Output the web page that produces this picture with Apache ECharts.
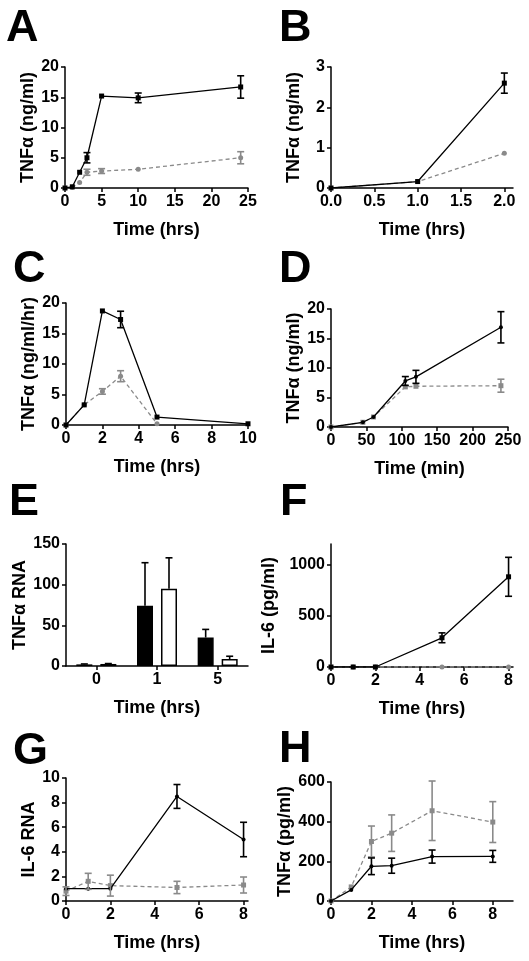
<!DOCTYPE html>
<html><head><meta charset="utf-8">
<script src="https://cdn.jsdelivr.net/npm/echarts@6/dist/echarts.min.js"></script>
<style>html,body{margin:0;padding:0;background:#fff}#c{width:529px;height:961px}</style>
</head><body><div id="c"></div>
<script>
// ---------- DATA ----------
// A
const A_x = [0, 1, 2, 3, 5, 10, 24];
const A_black = [0, 0.2, 2.6, 5.0, 15.2, 14.9, 16.7];
const A_blackErr = [0, 0, 0, 0.85, 0, 0.8, 1.85];
const A_gray = [0, 0.1, 0.9, 2.6, 2.8, 3.1, 5.0];
const A_grayErr = [0, 0, 0, 0.5, 0.4, 0, 1.0];
// B
const B_x = [0, 1, 2];
const B_black = [0, 0.16, 2.6];
const B_blackErr = [0, 0, 0.25];
const B_gray = [0, 0.16, 0.86];
const B_grayErr = [0, 0, 0];
// C
const C_x = [0, 1, 2, 3, 5, 10];
const C_black = [0, 3.3, 18.7, 17.3, 1.3, 0.2];
const C_blackErr = [0, 0, 0, 1.35, 0, 0];
const C_gx = [0, 1, 2, 3, 5];
const C_gray = [0, 3.3, 5.5, 8.0, 0.2];
const C_grayErr = [0, 0, 0.45, 0.9, 0];
// D
const D_x = [0, 45, 60, 105, 120, 240];
const D_black = [0, 0.8, 1.7, 7.8, 8.5, 16.9];
const D_blackErr = [0, 0, 0, 0.75, 1.1, 2.65];
const D_gray = [0, 0.8, 1.7, 6.8, 6.9, 7.0];
const D_grayErr = [0, 0, 0, 0, 0, 1.1];
// E
const E_cats = ['0', '1', '5'];
const E_black = [2, 74, 35];
const E_blackErr = [0.5, 53, 10];
const E_white = [2.5, 95, 8.6];
const E_whiteErr = [0.5, 38, 3.4];
// F
const F_x = [0, 1, 2, 5, 8];
const F_black = [0, 0, 0, 285, 880];
const F_blackErr = [0, 0, 0, 48, 190];
const F_gray = [0, 0, 0, 0, 0];
// G
const G_x = [0, 1, 2, 5, 8];
const G_black = [1.0, 1.0, 1.0, 8.5, 5.0];
const G_blackErr = [0, 0, 0, 0.97, 1.4];
const G_gray = [0.8, 1.6, 1.25, 1.1, 1.3];
const G_grayErr = [0.35, 0.65, 0.85, 0.5, 0.65];
// H
const H_x = [0, 1, 2, 3, 5, 8];
const H_black = [0, 56, 175, 178, 224, 225];
const H_blackErr = [0, 0, 42, 38, 33, 30];
const H_gray = [0, 71, 300, 342, 455, 398];
const H_grayErr = [0, 0, 78, 92, 150, 103];

// ---------- LAYOUT ----------
const FONT = '"Liberation Sans", Arial, sans-serif';
const BLACK = '#000';
const GRAY = '#8a8a8a';

const grids = [
  {left: 65, top: 67, width: 183, height: 121},   // A
  {left: 331, top: 67, width: 182, height: 121},  // B
  {left: 66, top: 303, width: 182, height: 122},  // C
  {left: 331, top: 309, width: 177, height: 118}, // D
  {left: 66, top: 544, width: 182, height: 122},  // E
  {left: 331, top: 544, width: 182, height: 123}, // F
  {left: 66, top: 778, width: 182, height: 123},  // G
  {left: 331, top: 782, width: 182, height: 119}  // H
];

const axLine = {show: true, lineStyle: {color: BLACK, width: 1.5}};
const axTick = {show: true, inside: false, length: 4, lineStyle: {color: BLACK, width: 1.5}};
const lblStyle = {color: BLACK, fontFamily: FONT, fontWeight: 'bold', fontSize: 16};
const nameStyle = {color: BLACK, fontFamily: FONT, fontWeight: 'bold', fontSize: 18};

function xAx(i, min, max, ticks, name, fmt) {
  return {
    type: 'value', gridIndex: i, min: min, max: max,
    axisLine: axLine,
    axisTick: Object.assign({}, axTick, {customValues: ticks}),
    axisLabel: Object.assign({}, lblStyle, {margin: 6, customValues: ticks, formatter: fmt || (v => String(v))}),
    splitLine: {show: false},
    name: name, nameLocation: 'middle', nameGap: 33, nameTextStyle: nameStyle
  };
}
function yAx(i, min, max, ticks, name, gap) {
  return {
    type: 'value', gridIndex: i, min: min, max: max,
    axisLine: axLine,
    axisTick: Object.assign({}, axTick, {customValues: ticks}),
    axisLabel: Object.assign({}, lblStyle, {margin: 6, customValues: ticks, formatter: v => String(v)}),
    splitLine: {show: false},
    name: name, nameLocation: 'middle', nameRotate: 90, nameGap: gap || 28, nameTextStyle: nameStyle
  };
}
const range = (a, b, s) => { const r = []; for (let v = a; v <= b + 1e-9; v += s) r.push(+v.toFixed(4)); return r; };

const xAxes = [
  xAx(0, 0, 25, range(0, 25, 5), 'Time (hrs)'),
  xAx(1, 0, 2.1, range(0, 2, 0.5), 'Time (hrs)', v => v.toFixed(1)),
  xAx(2, 0, 10, range(0, 10, 2), 'Time (hrs)'),
  xAx(3, 0, 250, range(0, 250, 50), 'Time (min)'),
  {
    type: 'category', gridIndex: 4, data: E_cats,
    axisLine: axLine,
    axisTick: Object.assign({}, axTick, {alignWithLabel: true}),
    axisLabel: Object.assign({}, lblStyle, {margin: 6}),
    name: 'Time (hrs)', nameLocation: 'middle', nameGap: 33, nameTextStyle: nameStyle
  },
  xAx(5, 0, 8.2, range(0, 8, 2), 'Time (hrs)'),
  xAx(6, 0, 8.2, range(0, 8, 2), 'Time (hrs)'),
  xAx(7, 0, 9, range(0, 8, 2), 'Time (hrs)')
];
const yAxes = [
  yAx(0, 0, 20, range(0, 20, 5), 'TNFα (ng/ml)'),
  yAx(1, 0, 3, range(0, 3, 1), 'TNFα (ng/ml)'),
  yAx(2, 0, 20, range(0, 20, 5), 'TNFα (ng/ml/hr)'),
  yAx(3, 0, 20, range(0, 20, 5), 'TNFα (ng/ml)'),
  yAx(4, 0, 150, range(0, 150, 50), 'TNFα RNA'),
  yAx(5, 0, 1200, range(0, 1000, 500), 'IL-6 (pg/ml)', 53),
  yAx(6, 0, 10, range(0, 10, 2), 'IL-6 RNA'),
  yAx(7, 0, 600, range(0, 600, 200), 'TNFα (pg/ml)')
];

function lineS(i, xs, ys, color, symbol, dashed, size) {
  return {
    type: 'line', xAxisIndex: i, yAxisIndex: i,
    data: xs.map((x, k) => [x, ys[k]]),
    symbol: symbol, symbolSize: size || 5, showSymbol: true,
    itemStyle: {color: color},
    lineStyle: {color: color, width: 1.3, type: dashed ? [4, 3] : 'solid'},
    animation: false, z: dashed ? 2 : 3
  };
}
function errS(i, xs, ys, errs, color, upOnly, offset) {
  const data = [];
  xs.forEach((x, k) => { if (errs[k] > 0) data.push([x, upOnly ? ys[k] : ys[k] - errs[k], ys[k] + errs[k]]); });
  return {
    type: 'custom', xAxisIndex: i, yAxisIndex: i, data: data, animation: false, z: 4,
    renderItem: (params, api) => {
      const x = api.value(0);
      const lo = api.coord([x, api.value(1)]);
      const hi = api.coord([x, api.value(2)]);
      const dx = offset || 0;
      const cx = lo[0] + dx, w = 3.5;
      const st = {stroke: color, lineWidth: 1.6};
      const ch = [
        {type: 'line', shape: {x1: cx, y1: lo[1], x2: cx, y2: hi[1]}, style: st},
        {type: 'line', shape: {x1: cx - w, y1: hi[1], x2: cx + w, y2: hi[1]}, style: st}
      ];
      if (!upOnly) ch.push({type: 'line', shape: {x1: cx - w, y1: lo[1], x2: cx + w, y2: lo[1]}, style: st});
      return {type: 'group', children: ch};
    }
  };
}

const series = [
  // A
  lineS(0, A_x, A_gray, GRAY, 'circle', true),
  errS(0, A_x, A_gray, A_grayErr, GRAY),
  lineS(0, A_x, A_black, BLACK, 'rect', false),
  errS(0, A_x, A_black, A_blackErr, BLACK),
  // B
  lineS(1, B_x, B_gray, GRAY, 'circle', true),
  lineS(1, B_x, B_black, BLACK, 'rect', false),
  errS(1, B_x, B_black, B_blackErr, BLACK),
  // C
  lineS(2, C_gx, C_gray, GRAY, 'circle', true),
  errS(2, C_gx, C_gray, C_grayErr, GRAY),
  lineS(2, C_x, C_black, BLACK, 'rect', false),
  errS(2, C_x, C_black, C_blackErr, BLACK),
  // D
  lineS(3, D_x, D_gray, GRAY, 'rect', true),
  errS(3, D_x, D_gray, D_grayErr, GRAY),
  lineS(3, D_x, D_black, BLACK, 'circle', false, 4),
  errS(3, D_x, D_black, D_blackErr, BLACK),
  // E
  {type: 'bar', xAxisIndex: 4, yAxisIndex: 4, data: E_black, barWidth: 16, barGap: '50%',
   itemStyle: {color: BLACK, borderColor: BLACK, borderWidth: 1.5}, animation: false},
  {type: 'bar', xAxisIndex: 4, yAxisIndex: 4, data: E_white, barWidth: 16, barGap: '50%',
   itemStyle: {color: '#fff', borderColor: BLACK, borderWidth: 1.5}, animation: false},
  errS(4, [0, 1, 2], E_black, E_blackErr, BLACK, true, -12),
  errS(4, [0, 1, 2], E_white, E_whiteErr, BLACK, true, 12),
  // F
  lineS(5, F_x, F_gray, GRAY, 'circle', true),
  lineS(5, F_x, F_black, BLACK, 'rect', false),
  errS(5, F_x, F_black, F_blackErr, BLACK),
  // G
  lineS(6, G_x, G_gray, GRAY, 'rect', true),
  errS(6, G_x, G_gray, G_grayErr, GRAY),
  lineS(6, G_x, G_black, BLACK, 'circle', false, 4),
  errS(6, G_x, G_black, G_blackErr, BLACK),
  // H
  lineS(7, H_x, H_gray, GRAY, 'rect', true),
  errS(7, H_x, H_gray, H_grayErr, GRAY),
  lineS(7, H_x, H_black, BLACK, 'circle', false, 4),
  errS(7, H_x, H_black, H_blackErr, BLACK)
];

const letters = [
  ['A', 6, 6], ['B', 279, 6], ['C', 13, 247], ['D', 279, 247],
  ['E', 9, 480], ['F', 280, 480], ['G', 13, 729], ['H', 279, 727]
];
const graphic = letters.map(l => ({
  type: 'text', left: l[1], top: l[2],
  style: {text: l[0], fill: BLACK, font: 'bold 45px ' + FONT}
}));

const chart = echarts.init(document.getElementById('c'), null, {renderer: 'canvas'});
chart.setOption({
  animation: false,
  backgroundColor: '#fff',
  grid: grids.map(g => Object.assign({containLabel: false}, g)),
  xAxis: xAxes, yAxis: yAxes,
  series: series,
  graphic: graphic
});
</script></body></html>
